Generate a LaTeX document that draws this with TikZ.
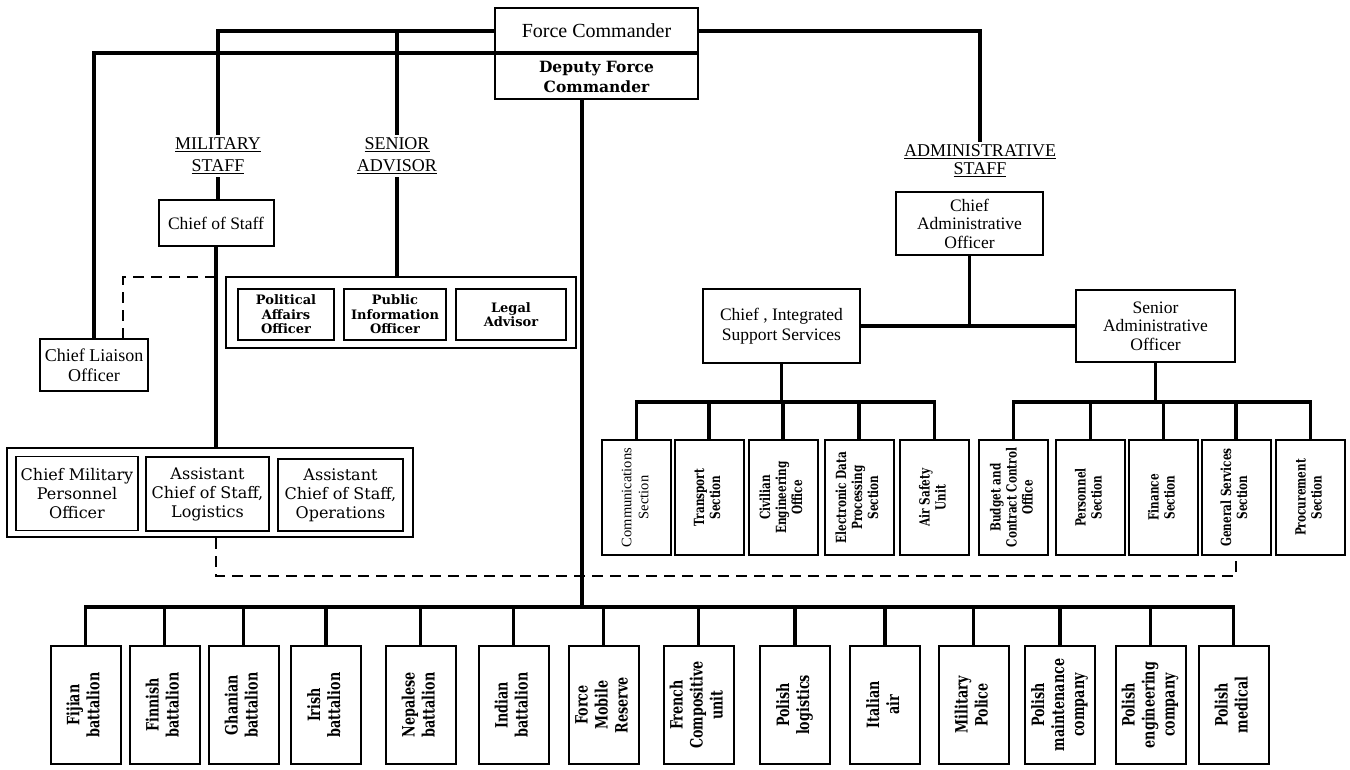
\documentclass[tikz,border=0pt]{standalone}
\usepackage{fontspec}
\setmainfont{Liberation Serif}
\newfontfamily\centf{DejaVu Serif}
\newfontfamily\centcf[FakeStretch=0.75]{DejaVu Serif}
\newcommand{\rottext}[1]{\rotatebox{90}{\begin{tabular}{@{}c@{}}#1\end{tabular}}}
\begin{document}
\begin{tikzpicture}[x=1pt,y=-1pt,
  conn/.style={line width=3.5pt},
  dsh/.style={line width=1.4pt, dash pattern=on 11pt off 7pt},
  box/.style={draw, line width=2pt, inner sep=0pt, align=center},
  ibox/.style={draw, line width=1.3pt, inner sep=0pt, align=center},
  lab/.style={align=center, inner sep=3pt, font=\fontsize{18}{22}\selectfont},
  advb/.style={ibox, font=\centf\bfseries\fontsize{13}{14.5}\selectfont, minimum height=51},
  milb/.style={ibox, font=\centf\fontsize{16}{19}\selectfont},
  sec/.style={box, minimum width=69, minimum height=115, font=\centcf\bfseries\fontsize{14}{16}\selectfont},
  unit/.style={box, minimum width=70, minimum height=118, font=\centcf\bfseries\fontsize{17}{20}\selectfont},
]
\useasboundingbox[fill=white] (0,0) rectangle (1350,770);

% top
\node[box, minimum width=203, minimum height=46, font=\fontsize{20}{22}\selectfont] (fc) at (596.5,31) {Force Commander};
\node[box, minimum width=203, minimum height=45, font=\centf\bfseries\fontsize{15.5}{20}\selectfont] (dfc) at (596.5,76.5) {Deputy Force\\Commander};

\node[lab] (mil) at (218,156) {\underline{MILITARY}\\\underline{STAFF}};
\node[lab] (sa) at (397,156) {\underline{SENIOR}\\\underline{ADVISOR}};
\node[lab, font=\fontsize{18}{18}\selectfont] (adm) at (980,161) {\underline{ADMINISTRATIVE}\\\underline{STAFF}};

% military side
\node[box, font=\fontsize{17.5}{20}\selectfont, minimum width=115, minimum height=46] (cos) at (216,223) {Chief of Staff};
\node[box, font=\fontsize{18}{20}\selectfont, minimum width=108, minimum height=52] (cl) at (94,365) {Chief Liaison\\Officer};

\node[box, minimum width=350, minimum height=71] (advg) at (401,312.5) {};
\node[advb, minimum width=96] (pao) at (286,314.5) {Political\\Affairs\\Officer};
\node[advb, minimum width=102] (pio) at (395,314.5) {Public\\Information\\Officer};
\node[advb, minimum width=110] (la) at (511,314.5) {Legal\\Advisor};

\node[box, minimum width=406, minimum height=89] (mg) at (210,492.5) {};
\node[milb, minimum width=122, minimum height=74] (cmpo) at (77,493.5) {Chief Military\\Personnel\\Officer};
\node[milb, minimum width=123, minimum height=74] (acl) at (207.5,494) {Assistant\\Chief of Staff,\\Logistics};
\node[milb, minimum width=125, minimum height=72] (aco) at (340.5,495) {Assistant\\Chief of Staff,\\Operations};

% administrative side
\node[ibox, line width=1.6pt, font=\fontsize{17.5}{18.5}\selectfont, minimum width=147, minimum height=63] (cao) at (969.5,223.5) {Chief\\Administrative\\Officer};
\node[ibox, line width=1.6pt, font=\fontsize{17.5}{20}\selectfont, minimum width=157, minimum height=74] (ciss) at (781.5,326) {Chief , Integrated\\Support Services};
\node[ibox, line width=1.6pt, font=\fontsize{17.5}{18.5}\selectfont, minimum width=159, minimum height=72] (sao) at (1155.5,326) {Senior\\Administrative\\Officer};

\node[sec, font=\fontsize{14.5}{17}\selectfont] (comm) at (636.5,497.5) {\rottext{Communications\\Section}};
\node[sec] (trans) at (709,497.5) {\rottext{Transport\\Section}};
\node[sec] (civ) at (783,497.5) {\rottext{Civilian\\Engineering\\Office}};
\node[sec] (edp) at (859,497.5) {\rottext{Electronic Data\\Processing\\Section}};
\node[sec] (air) at (934.5,497.5) {\rottext{Air Safety\\Unit}};
\node[sec] (bud) at (1013.5,497.5) {\rottext{Budget and\\Contract Control\\Office}};
\node[sec] (pers) at (1090.5,497.5) {\rottext{Personnel\\Section}};
\node[sec] (fin) at (1163.5,497.5) {\rottext{Finance\\Section}};
\node[sec] (gen) at (1236,497.5) {\rottext{General Services\\Section}};
\node[sec] (proc) at (1310.5,497.5) {\rottext{Procurement\\Section}};

% units
\node[unit] (fij) at (85.5,705) {\rottext{Fijian\\battalion}};
\node[unit] (finn) at (164.5,705) {\rottext{Finnish\\battalion}};
\node[unit] (gha) at (243.5,705) {\rottext{Ghanian\\battalion}};
\node[unit] (iri) at (326,705) {\rottext{Irish\\battalion}};
\node[unit] (nep) at (420.5,705) {\rottext{Nepalese\\battalion}};
\node[unit] (ind) at (513.5,705) {\rottext{Indian\\battalion}};
\node[unit] (fmr) at (603.5,705) {\rottext{Force\\Mobile\\Reserve}};
\node[unit] (fre) at (698.5,705) {\rottext{French\\Compositive\\unit}};
\node[unit] (pol) at (795,705) {\rottext{Polish\\logistics}};
\node[unit] (ita) at (885,705) {\rottext{Italian\\air}};
\node[unit] (mp) at (973.5,705) {\rottext{Military\\Police}};
\node[unit] (pmc) at (1060,705) {\rottext{Polish\\maintenance\\company}};
\node[unit] (pec) at (1150.5,705) {\rottext{Polish\\engineering\\company}};
\node[unit] (pmed) at (1233.5,705) {\rottext{Polish\\medical}};

% connectors
\draw[conn] (fc.west) -| (mil.north);
\draw[conn] (sa.north) -- (sa.north |- fc.west);
\draw[conn] (fc.east) -| (adm.north);
\draw[conn] (dfc.north east) -- (dfc.north west) -| (cl.north);
\draw[conn] (mil.south) -- (mil.south |- cos.north);
\draw[conn] (sa.south) -- (sa.south |- advg.north);
\draw[conn] (cos.south) -- (cos.south |- mg.north);

\coordinate (dl) at (123,277);
\draw[dsh] (dl -| cos.south) -- (dl) -- (dl |- cl.north);
\coordinate (dd) at (0,576);
\draw[dsh] (mg.south -| cos.south) -- (cos.south |- dd) -- (gen.south |- dd) -- (gen.south);

\coordinate (dx) at (582,607);
\draw[conn] (dx |- dfc.south) -- (dx);
\draw[conn] (fij.north) -- (fij.north |- dx) -- (pmed.north |- dx) -- (pmed.north);
\foreach \n in {finn,gha,iri,nep,ind,fmr,fre,pol,ita,mp,pmc,pec}
  \draw[conn] (\n.north) -- (\n.north |- dx);

\draw[conn] (ciss.east) -- (sao.west);
\draw[conn] (cao.south) -- (cao.south |- ciss.east);
\coordinate (ab) at (0,402);
\draw[conn] (ciss.south) -- (ciss.south |- ab);
\draw[conn] (comm.north) -- (comm.north |- ab) -- (air.north |- ab) -- (air.north);
\foreach \n in {trans,civ,edp}
  \draw[conn] (\n.north) -- (\n.north |- ab);
\draw[conn] (sao.south) -- (sao.south |- ab);
\draw[conn] (bud.north) -- (bud.north |- ab) -- (proc.north |- ab) -- (proc.north);
\foreach \n in {pers,fin,gen}
  \draw[conn] (\n.north) -- (\n.north |- ab);
\end{tikzpicture}
\end{document}
